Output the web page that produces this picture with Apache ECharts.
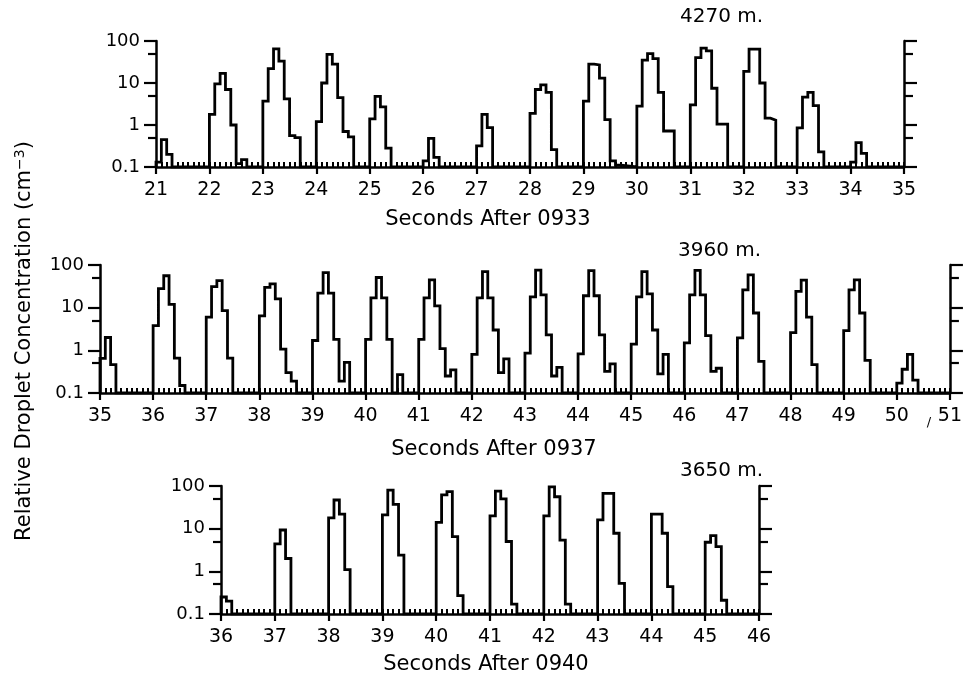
<!DOCTYPE html>
<html>
<head>
<meta charset="utf-8">
<script src="https://cdn.jsdelivr.net/npm/echarts@6/dist/echarts.min.js"></script>
<style>
html,body{margin:0;padding:0;background:#fff;}
#chart{width:965px;height:678px;}
</style>
</head>
<body>
<div id="chart"></div>
<script>
// ---------------- DATA ----------------
// Panel titles and axis names
const panelTitles = ['4270 m.', '3960 m.', '3650 m.'];
const panelXNames = ['Seconds After 0933', 'Seconds After 0937', 'Seconds After 0940'];
const yTitle = 'Relative Droplet Concentration (cm';
const yTitleSup = '−3';
const yTickLabels = { '0.1': '0.1', '1': '1', '10': '10', '100': '100' };

// x ranges (seconds)
const p1Range = [21, 35];
const p2Range = [35, 51];
const p3Range = [36, 46];

// Histogram bin width (s) and baseline value
const binWidth = 0.1;
const baseline = 0.1;

// Panel 1 (4270 m): burst start times and 0.1-s bin concentrations
const p1Starts = [21, 22, 23, 24, 25, 26, 27, 28, 29, 30, 31, 32, 33, 34];
const p1Bins = [
  [0.13, 0.45, 0.2],
  [1.8, 9.5, 17, 7, 1.0, 0.12, 0.15],
  [3.7, 22, 65, 33, 4.2, 0.56, 0.5],
  [1.2, 10, 48, 28, 4.5, 0.7, 0.52],
  [1.4, 4.8, 2.7, 0.28],
  [0.14, 0.48, 0.17],
  [0.32, 1.8, 0.87],
  [1.9, 7, 9, 6, 0.26],
  [3.7, 28, 27, 13, 1.35, 0.14, 0.11],
  [2.8, 35, 50, 38, 6, 0.72, 0.72],
  [3, 40, 68, 58, 7.5, 1.05, 1.05],
  [19, 64, 64, 10, 1.45, 1.3],
  [0.85, 4.6, 6, 2.9, 0.23],
  [0.13, 0.38, 0.21]
];

// Panel 2 (3960 m)
const p2Starts = [35, 36, 37, 38, 39, 40, 41, 42, 43, 44, 45, 46, 47, 48, 49, 50];
const p2Bins = [
  [0.65, 2, 0.46],
  [3.8, 28, 56, 12, 0.66, 0.15],
  [6, 31, 43, 8.5, 0.66],
  [6.4, 30, 36, 16, 1.07, 0.3, 0.19],
  [1.7, 22, 66, 22, 1.8, 0.19, 0.52],
  [1.8, 17, 51, 17, 1.8, 0.1, 0.27],
  [1.8, 17, 45, 11, 1.1, 0.25, 0.35],
  [0.8, 17, 70, 17, 3, 0.3, 0.63],
  [0.86, 18, 76, 20, 2.3, 0.25, 0.4],
  [0.83, 19, 74, 19, 2.3, 0.32, 0.48],
  [1.4, 18, 70, 21, 3, 0.28, 0.8],
  [1.5, 20, 75, 20, 2.2, 0.32, 0.38],
  [1.95, 26, 59, 7.5, 0.55],
  [2.6, 24, 44, 6, 0.46],
  [2.9, 26, 45, 7.5, 0.58],
  [0.17, 0.36, 0.8, 0.2]
];

// Panel 3 (3650 m)
const p3Starts = [36, 37, 38, 39, 40, 41, 42, 43, 44, 45];
const p3Bins = [
  [0.25, 0.2],
  [4.4, 9.3, 2],
  [18, 47, 22, 1.1],
  [21, 80, 37, 2.4],
  [14, 62, 74, 6.5, 0.27],
  [20, 76, 50, 5, 0.17],
  [20, 95, 56, 5.4, 0.17],
  [16, 67, 67, 7.8, 0.52],
  [22, 22, 7.8, 0.44],
  [4.8, 6.9, 3.8, 0.21]
];

// ---------------- BUILD ----------------
function r3(v) { return Math.round(v * 1000) / 1000; }
function buildSteps(range, starts, bins) {
  const pts = [[range[0], baseline]];
  starts.forEach((s, k) => {
    const b = bins[k];
    for (let i = 0; i < b.length; i++) pts.push([r3(s + i * binWidth), b[i]]);
    pts.push([r3(s + b.length * binWidth), baseline]);
  });
  pts.push([range[1], baseline]);
  return pts;
}

const FONT = 'DejaVu Sans';
const BLACK = '#000';
const panels = [
  { range: p1Range, data: buildSteps(p1Range, p1Starts, p1Bins), grid: { left: 156, right: 61, top: 41, height: 126 } },
  { range: p2Range, data: buildSteps(p2Range, p2Starts, p2Bins), grid: { left: 100, right: 8, top: 265, height: 128 } },
  { range: p3Range, data: buildSteps(p3Range, p3Starts, p3Bins), grid: { left: 221, right: 206, top: 486, height: 128 } }
];

const grids = [], xAxes = [], yAxes = [], series = [];
const minorLog = [Math.log10(0.5), Math.log10(5), Math.log10(50)];

panels.forEach((p, i) => {
  grids.push(Object.assign({ containLabel: false }, p.grid));
  // main x axis: major ticks outward, labels
  xAxes.push({
    gridIndex: i, type: 'value', min: p.range[0], max: p.range[1], interval: 1,
    position: 'bottom',
    axisLine: { show: true, onZero: false, lineStyle: { color: BLACK, width: 2.5 } },
    axisTick: { show: true, length: 7, lineStyle: { color: BLACK, width: 2.2 } },
    axisLabel: { color: BLACK, fontFamily: FONT, fontSize: 19, margin: 14 },
    splitLine: { show: false }
  });
  // overlay x axis: minor ticks inward every 0.1 s
  xAxes.push({
    gridIndex: i, type: 'value', min: p.range[0], max: p.range[1], interval: 1,
    position: 'bottom',
    axisLine: { show: false, onZero: false },
    axisTick: { show: true, inside: true, length: 5, lineStyle: { color: BLACK, width: 2 } },
    minorTick: { show: true, splitNumber: 10, length: 5, lineStyle: { color: BLACK, width: 2 } },
    axisLabel: { show: false },
    splitLine: { show: false }
  });
  // main left log axis
  yAxes.push({
    gridIndex: i, type: 'log', logBase: 10, min: 0.1, max: 100, position: 'left',
    axisLine: { show: true, lineStyle: { color: BLACK, width: 2.5 } },
    axisTick: { show: true, length: 12, lineStyle: { color: BLACK, width: 2.2 } },
    axisLabel: {
      color: BLACK, fontFamily: FONT, fontSize: 18, margin: 16,
      formatter: v => yTickLabels[String(+v.toPrecision(3))] || ''
    },
    splitLine: { show: false }
  });
  // left minor ticks (0.5, 5, 50)
  yAxes.push({
    gridIndex: i, type: 'value', min: -1, max: 2, position: 'left',
    axisLine: { show: false },
    axisTick: { show: true, length: 8, customValues: minorLog, lineStyle: { color: BLACK, width: 2.2 } },
    axisLabel: { show: false },
    splitLine: { show: false }
  });
  // right log axis
  yAxes.push({
    gridIndex: i, type: 'log', logBase: 10, min: 0.1, max: 100, position: 'right',
    axisLine: { show: true, lineStyle: { color: BLACK, width: 2.5 } },
    axisTick: { show: true, length: 13, lineStyle: { color: BLACK, width: 2.2 } },
    axisLabel: { show: false },
    splitLine: { show: false }
  });
  // right minor ticks
  yAxes.push({
    gridIndex: i, type: 'value', min: -1, max: 2, position: 'right',
    axisLine: { show: false },
    axisTick: { show: true, length: 9, customValues: minorLog, lineStyle: { color: BLACK, width: 2.2 } },
    axisLabel: { show: false },
    splitLine: { show: false }
  });
  series.push({
    type: 'line', step: 'end', xAxisIndex: i * 2, yAxisIndex: i * 4,
    data: p.data, showSymbol: false, symbol: 'none', animation: false,
    lineStyle: { color: BLACK, width: 2.8, join: 'miter' }, z: 5
  });
});

const titleStyle = { fontFamily: FONT, fontSize: 20, fill: BLACK };
const graphics = [
  { type: 'text', x: 680, y: 17, style: Object.assign({ text: panelTitles[0], verticalAlign: 'middle' }, titleStyle) },
  { type: 'text', x: 678, y: 251, style: Object.assign({ text: panelTitles[1], verticalAlign: 'middle' }, titleStyle) },
  { type: 'text', x: 680, y: 471, style: Object.assign({ text: panelTitles[2], verticalAlign: 'middle' }, titleStyle) },
  { type: 'text', x: 488, y: 220, style: { text: panelXNames[0], align: 'center', verticalAlign: 'middle', fontFamily: FONT, fontSize: 21, fill: BLACK } },
  { type: 'text', x: 494, y: 450, style: { text: panelXNames[1], align: 'center', verticalAlign: 'middle', fontFamily: FONT, fontSize: 21, fill: BLACK } },
  { type: 'text', x: 486, y: 665, style: { text: panelXNames[2], align: 'center', verticalAlign: 'middle', fontFamily: FONT, fontSize: 21, fill: BLACK } },
  { type: 'text', x: 929, y: 423, style: { text: '/', align: 'center', verticalAlign: 'middle', fontFamily: FONT, fontSize: 13, fill: BLACK } },
  {
    type: 'text', x: 25, y: 341, rotation: Math.PI / 2,
    style: {
      text: yTitle + '{sup|' + yTitleSup + '})',
      align: 'center', verticalAlign: 'middle',
      fontFamily: FONT, fontSize: 21, fill: BLACK,
      rich: { sup: { fontFamily: FONT, fontSize: 14, verticalAlign: 'top', padding: [0, 0, 10, 0], fill: BLACK } }
    }
  }
];

const chart = echarts.init(document.getElementById('chart'), null, { renderer: 'canvas' });
chart.setOption({
  animation: false,
  backgroundColor: '#fff',
  grid: grids,
  xAxis: xAxes,
  yAxis: yAxes,
  series: series,
  graphic: graphics
});
</script>
</body>
</html>
